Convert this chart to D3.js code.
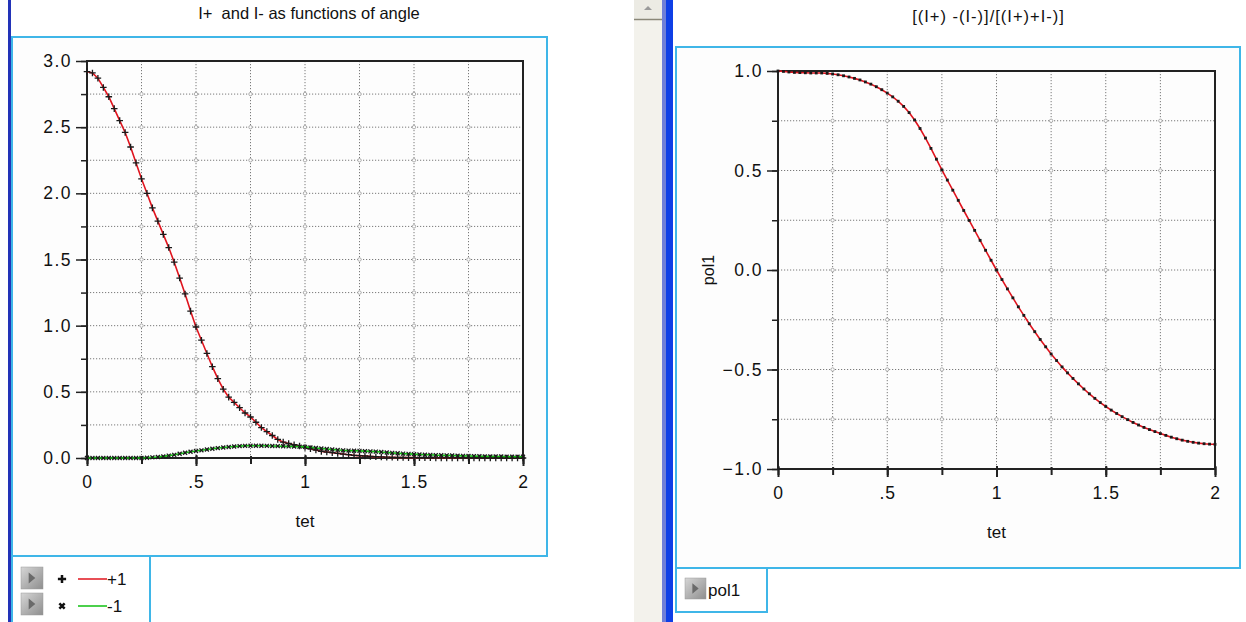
<!DOCTYPE html>
<html>
<head>
<meta charset="utf-8">
<script src="https://cdn.jsdelivr.net/npm/d3@7"></script>
<style>
body{margin:0;background:#fff;}
svg text{font-family:"Liberation Sans",Arial,sans-serif;fill:#111;white-space:pre;}
</style>
</head>
<body>
<div id="chart"></div>
<script>
var width = 1246;
var height = 622;

// angle samples (tet)
var tet = [0,0.025,0.05,0.075,0.1,0.125,0.15,0.175,0.2,0.225,0.25,0.275,0.3,0.325,0.35,0.375,0.4,0.425,0.45,0.475,
  0.5,0.525,0.55,0.575,0.6,0.625,0.65,0.675,0.7,0.725,0.75,0.775,0.8,0.825,0.85,0.875,0.9,0.925,0.95,0.975,
  1,1.025,1.05,1.075,1.1,1.125,1.15,1.175,1.2,1.225,1.25,1.275,1.3,1.325,1.35,1.375,1.4,1.425,1.45,1.475,
  1.5,1.525,1.55,1.575,1.6,1.625,1.65,1.675,1.7,1.725,1.75,1.775,1.8,1.825,1.85,1.875,1.9,1.925,1.95,1.975,2];

// I+ (series "+1")
var iPlus = [2.92,2.91,2.87,2.80,2.73,2.64,2.55,2.46,2.35,2.23,2.11,2.00,1.89,1.79,1.69,1.59,1.48,1.36,1.24,1.11,
  0.99,0.89,0.79,0.69,0.60,0.52,0.46,0.42,0.38,0.34,0.31,0.27,0.23,0.20,0.17,0.14,0.12,0.11,0.10,0.09,
  0.08,0.07,0.06,0.05,0.045,0.04,0.035,0.03,0.025,0.02,0.018,0.015,0.012,0.010,0.008,0.006,0.005,0.004,0.004,0.003,
  0.003,0.002,0.002,0.002,0.001,0.001,0.001,0.001,0.001,0,0,0,0,0,0,0,0,0,0,0,0];

// I- (series "-1")
var iMinus = [0,0,0,0,0,0,0,0,0,0,0,0.002,0.005,0.008,0.012,0.018,0.024,0.032,0.040,0.047,
  0.053,0.058,0.064,0.070,0.075,0.079,0.083,0.087,0.090,0.092,0.093,0.093,0.093,0.092,0.091,0.090,0.089,0.088,0.087,0.086,
  0.084,0.080,0.076,0.072,0.068,0.064,0.061,0.058,0.056,0.055,0.054,0.052,0.050,0.048,0.045,0.042,0.039,0.036,0.033,0.031,
  0.029,0.027,0.025,0.024,0.022,0.021,0.020,0.019,0.017,0.016,0.015,0.014,0.013,0.012,0.012,0.011,0.011,0.010,0.010,0.010,0.010];

// pol1 = [(I+)-(I-)]/[(I+)+(I-)]
var pol1 = [1.000,0.998,0.995,0.993,0.992,0.991,0.990,0.990,0.990,0.988,0.985,0.981,0.976,0.970,0.963,0.955,0.945,0.934,0.921,0.906,
  0.889,0.870,0.848,0.822,0.791,0.754,0.711,0.663,0.611,0.557,0.503,0.452,0.401,0.350,0.299,0.249,0.199,0.149,0.099,0.049,
  0.000,-0.048,-0.095,-0.140,-0.185,-0.228,-0.270,-0.310,-0.349,-0.386,-0.422,-0.455,-0.487,-0.517,-0.545,-0.572,-0.598,-0.622,-0.645,-0.666,
  -0.686,-0.704,-0.721,-0.737,-0.752,-0.766,-0.779,-0.791,-0.802,-0.812,-0.822,-0.831,-0.840,-0.848,-0.855,-0.861,-0.866,-0.870,-0.873,-0.875,-0.876];

// ticks
var xGridTicks = [0,0.25,0.5,0.75,1,1.25,1.5,1.75,2];
var xLabelTicks = [0,0.5,1,1.5,2];
var xTickLabels = ["0",".5","1","1.5","2"];
var leftYGrid = [0,0.25,0.5,0.75,1,1.25,1.5,1.75,2,2.25,2.5,2.75,3];
var leftYLabels = [0,0.5,1,1.5,2,2.5,3];
var rightYGrid = [-1,-0.75,-0.5,-0.25,0,0.25,0.5,0.75,1];
var rightYLabels = [-1,-0.5,0,0.5,1];

var svg = d3.select("#chart").append("svg")
  .attr("width", width)
  .attr("height", height);

svg.append("rect").attr("width", width).attr("height", height).attr("fill", "#fff");

var defs = svg.append("defs");
var grad = defs.append("linearGradient").attr("id", "btn").attr("x1", 0).attr("y1", 0).attr("x2", 1).attr("y2", 1);
grad.append("stop").attr("offset", "0%").attr("stop-color", "#d6d6d6");
grad.append("stop").attr("offset", "100%").attr("stop-color", "#8e8e8e");

// ---- window chrome ----
svg.append("rect").attr("x", 8).attr("y", 0).attr("width", 3).attr("height", height).attr("fill", "#2233b8");
svg.append("rect").attr("x", 634).attr("y", 0).attr("width", 28).attr("height", height).attr("fill", "#f3f2ec");
svg.append("rect").attr("x", 634).attr("y", 0).attr("width", 28).attr("height", 20).attr("fill", "#ecebe4");
svg.append("line").attr("x1", 634).attr("x2", 662).attr("y1", 19.5).attr("y2", 19.5).attr("stroke", "#8a8778").attr("stroke-width", 1.5);
svg.append("path").attr("d", "M644,10 L648,6 L652,10 Z").attr("fill", "#9a9a9a");
svg.append("rect").attr("x", 662).attr("y", 0).attr("width", 4).attr("height", height).attr("fill", "#6f7fd8");
svg.append("rect").attr("x", 666).attr("y", 0).attr("width", 7).attr("height", height).attr("fill", "#0f3fe6");

var panelStroke = "#3fb6e8";

function button(x, y, s){
  svg.append("rect").attr("x", x).attr("y", y).attr("width", s).attr("height", s)
    .attr("fill", "url(#btn)").attr("stroke", "#9a9a9a").attr("stroke-width", 0.5);
  svg.append("path")
    .attr("d", "M" + (x + s * 0.35) + "," + (y + s * 0.25) + " L" + (x + s * 0.65) + "," + (y + s * 0.5) + " L" + (x + s * 0.35) + "," + (y + s * 0.75) + " Z")
    .attr("fill", "#6a6a6a");
}

var line = d3.line();

function drawPlot(o){
  var x = d3.scaleLinear().domain([0, 2]).range([o.x0, o.x1]);
  var y = d3.scaleLinear().domain(o.yDomain).range([o.yb, o.yt]);
  var g = svg.append("g");

  // panel frame
  g.append("rect").attr("x", o.px).attr("y", o.py).attr("width", o.pw).attr("height", o.ph)
    .attr("fill", "#fdfdfd").attr("stroke", panelStroke).attr("stroke-width", 2);

  // grid (dotted)
  g.selectAll(".vg").data(xGridTicks).join("line")
    .attr("x1", d => x(d)).attr("x2", d => x(d)).attr("y1", o.yt).attr("y2", o.yb)
    .attr("stroke", "#7a7a7a").attr("stroke-width", 1).attr("stroke-dasharray", "1.2,1.8");
  g.selectAll(".hg").data(o.yGrid).join("line")
    .attr("x1", o.x0).attr("x2", o.x1).attr("y1", d => y(d)).attr("y2", d => y(d))
    .attr("stroke", "#7a7a7a").attr("stroke-width", 1).attr("stroke-dasharray", "1.2,1.8");
  var nodes = [];
  xGridTicks.slice(1, -1).forEach(a => o.yGrid.slice(1, -1).forEach(b => nodes.push([a, b])));
  g.selectAll(".gn").data(nodes).join("circle")
    .attr("cx", d => x(d[0])).attr("cy", d => y(d[1])).attr("r", 1.7)
    .attr("fill", "#fff").attr("stroke", "#999").attr("stroke-width", 0.8);

  // minor ticks
  g.append("g").attr("transform", "translate(0," + o.yb + ")")
    .call(d3.axisBottom(x).tickValues(xGridTicks).tickSize(6).tickFormat(""))
    .call(a => a.select(".domain").remove())
    .call(a => a.selectAll("line").attr("stroke", "#222").attr("stroke-width", 2).attr("y1", -2));
  g.append("g").attr("transform", "translate(" + o.x0 + ",0)")
    .call(d3.axisLeft(y).tickValues(o.yGrid).tickSize(6).tickFormat(""))
    .call(a => a.select(".domain").remove())
    .call(a => a.selectAll("line").attr("stroke", "#222").attr("stroke-width", 1.5));

  // major ticks + labels
  g.append("g").attr("transform", "translate(0," + o.yb + ")")
    .call(d3.axisBottom(x).tickValues(xLabelTicks).tickSize(8).tickPadding(10)
      .tickFormat((d, i) => xTickLabels[i]))
    .call(a => a.select(".domain").remove())
    .call(a => a.selectAll("line").attr("stroke", "#222").attr("stroke-width", 2).attr("y1", -3))
    .call(a => a.selectAll("text").attr("font-size", 17.5).attr("font-family", null).attr("letter-spacing", 1).attr("fill", "#111"));
  g.append("g").attr("transform", "translate(" + o.x0 + ",0)")
    .call(d3.axisLeft(y).tickValues(o.yLabels).tickSize(11).tickPadding(4).tickFormat(d3.format(".1f")))
    .call(a => a.select(".domain").remove())
    .call(a => a.selectAll("line").attr("stroke", "#222").attr("stroke-width", 1.5))
    .call(a => a.selectAll("text").attr("font-size", 17.5).attr("font-family", null).attr("letter-spacing", 1.5).attr("fill", "#111"));

  // plot frame
  g.append("rect").attr("x", o.x0).attr("y", o.yt).attr("width", o.x1 - o.x0).attr("height", o.yb - o.yt)
    .attr("fill", "none").attr("stroke", "#222").attr("stroke-width", 2);

  // series
  o.series.forEach(function(s){
    var pts = tet.map((t, i) => [x(t), y(s.values[i])]);
    g.append("path").attr("d", line(pts)).attr("fill", "none")
      .attr("stroke", s.color).attr("stroke-width", 1.6);
    var sym = d3.symbol(s.symbol, s.size);
    g.selectAll(null).data(pts).join("path")
      .attr("transform", d => "translate(" + d[0] + "," + d[1] + ")")
      .attr("d", sym)
      .attr("fill", s.fill ? "#1a1a1a" : "none")
      .attr("stroke", s.fill ? "none" : "#1a1a1a").attr("stroke-width", 1.3);
  });

  // titles
  g.append("text").attr("x", (o.x0 + o.x1) / 2 + o.titleDx).attr("y", o.titleY).attr("text-anchor", "middle")
    .attr("font-size", 16.5).attr("letter-spacing", o.titleLs).text(o.title);
  g.append("text").attr("x", (o.x0 + o.x1) / 2).attr("y", o.yb + 69).attr("text-anchor", "middle")
    .attr("font-size", 17).text("tet");
  if (o.yTitle) {
    g.append("text").attr("transform", "translate(" + (o.x0 - 64) + "," + ((o.yt + o.yb) / 2) + ") rotate(-90)")
      .attr("text-anchor", "middle").attr("font-size", 16).text(o.yTitle);
  }
}

drawPlot({
  px: 12, py: 37, pw: 535, ph: 519,
  x0: 87, x1: 523, yt: 61, yb: 458,
  yDomain: [0, 3], yGrid: leftYGrid, yLabels: leftYLabels,
  title: "I+  and I- as functions of angle", titleY: 19, titleDx: 4, titleLs: 0,
  series: [
    {values: iPlus, color: "#e0141e", symbol: d3.symbolPlus, size: 16},
    {values: iMinus, color: "#10c010", symbol: d3.symbolTimes, size: 12}
  ]
});

drawPlot({
  px: 676, py: 47, pw: 564, ph: 521,
  x0: 778, x1: 1215, yt: 71, yb: 469,
  yDomain: [-1, 1], yGrid: rightYGrid, yLabels: rightYLabels,
  title: "[(I+) -(I-)]/[(I+)+I-)]", titleY: 22, titleDx: -8, titleLs: 1, yTitle: "pol1",
  series: [
    {values: pol1, color: "#e0141e", symbol: d3.symbolSquare, size: 8, fill: true}
  ]
});

// ---- legends ----
svg.append("rect").attr("x", 12).attr("y", 556).attr("width", 138).attr("height", 80)
  .attr("fill", "#fff").attr("stroke", panelStroke).attr("stroke-width", 2);
button(21, 567, 22);
button(21, 593, 22);
svg.append("path").attr("transform", "translate(62,579)").attr("d", d3.symbol(d3.symbolPlus, 24)())
  .attr("stroke", "#111").attr("stroke-width", 2.5).attr("fill", "none");
svg.append("line").attr("x1", 78).attr("x2", 107).attr("y1", 579).attr("y2", 579).attr("stroke", "#e0141e").attr("stroke-width", 1.5);
svg.append("text").attr("x", 107).attr("y", 585).attr("font-size", 17).text("+1");
svg.append("path").attr("transform", "translate(62,606)").attr("d", d3.symbol(d3.symbolTimes, 20)())
  .attr("stroke", "#111").attr("stroke-width", 2.5).attr("fill", "none");
svg.append("line").attr("x1", 78).attr("x2", 107).attr("y1", 606).attr("y2", 606).attr("stroke", "#10c010").attr("stroke-width", 1.5);
svg.append("text").attr("x", 107).attr("y", 612).attr("font-size", 17).text("-1");

svg.append("rect").attr("x", 676).attr("y", 568).attr("width", 91).attr("height", 44)
  .attr("fill", "#fff").attr("stroke", panelStroke).attr("stroke-width", 2);
button(685, 578, 21);
svg.append("text").attr("x", 708).attr("y", 596).attr("font-size", 17).text("pol1");
</script>
</body>
</html>
